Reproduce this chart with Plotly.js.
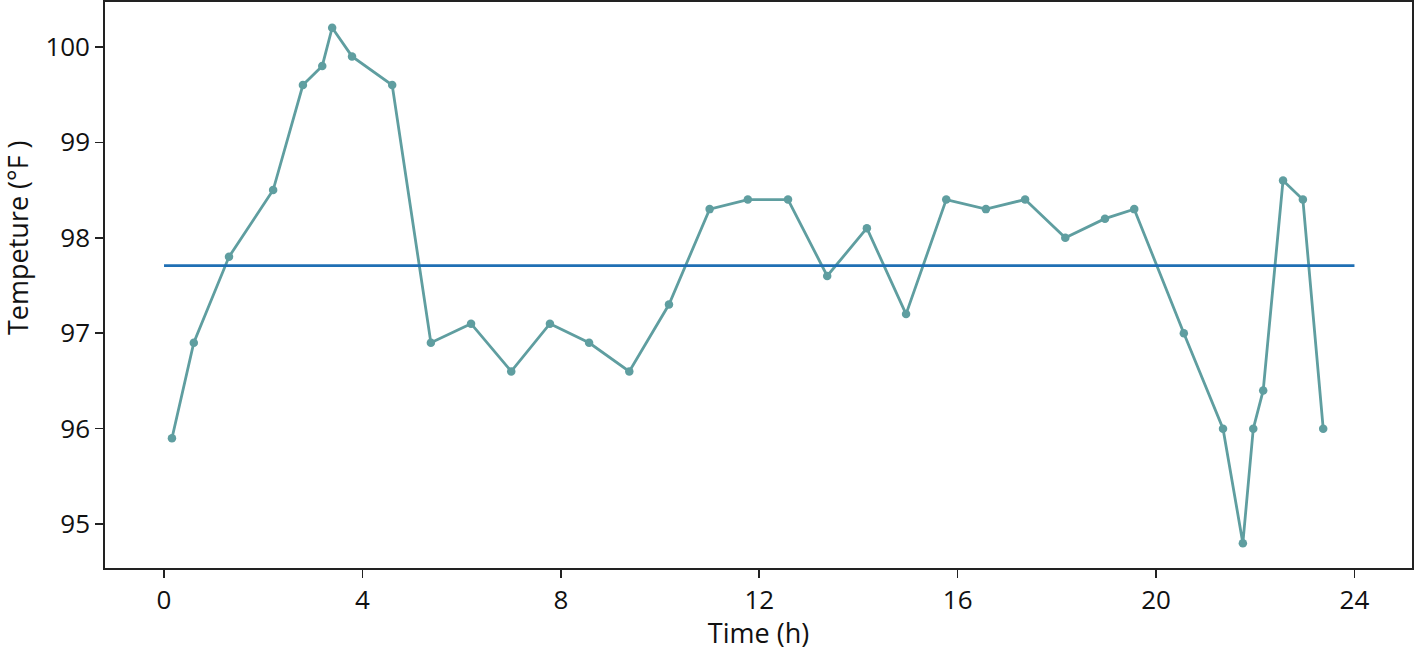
<!DOCTYPE html>
<html>
<head>
<meta charset="utf-8">
<script src="https://cdn.plot.ly/plotly-3.0.1.min.js"></script>
<style>html,body{margin:0;padding:0;background:#fff;}#chart{width:1416px;height:651px;}</style>
</head>
<body>
<div id="chart"></div>
<script>
const timeHours = [0.16,0.60,1.31,2.20,2.80,3.19,3.39,3.79,4.60,5.38,6.19,7.00,7.78,8.57,9.38,10.18,11.00,11.77,12.58,13.37,14.17,14.96,15.77,16.57,17.36,18.17,18.97,19.56,20.56,21.35,21.75,21.96,22.16,22.56,22.96,23.37];
const temperatureF = [95.9,96.9,97.8,98.5,99.6,99.8,100.2,99.9,99.6,96.9,97.1,96.6,97.1,96.9,96.6,97.3,98.3,98.4,98.4,97.6,98.1,97.2,98.4,98.3,98.4,98.0,98.2,98.3,97.0,96.0,94.8,96.0,96.4,98.6,98.4,96.0];
const meanSpanX = [0, 24];
const xTicks = [0,4,8,12,16,20,24];
const yTicks = [95,96,97,98,99,100];
const xTitle = 'Time (h)';
const yTitle = 'Tempeture (°F )';

const meanVal = temperatureF.reduce((a,b)=>a+b,0)/temperatureF.length;

const traces = [
  {x: timeHours, y: temperatureF, mode: 'lines+markers', type: 'scatter',
   line: {color: '#5f9ea0', width: 2.8}, marker: {color: '#5f9ea0', size: 8.5}},
  {x: meanSpanX, y: [meanVal, meanVal], mode: 'lines', type: 'scatter',
   line: {color: '#1f6fb4', width: 2.6}}
];

const tickFont = {family: 'Open Sans, DejaVu Sans, sans-serif', size: 26, color: '#111'};
const titleFont = {family: 'Open Sans, DejaVu Sans, sans-serif', size: 27, color: '#111'};

const layout = {
  width: 1416, height: 651,
  margin: {l: 105, r: 4, t: 2, b: 83},
  paper_bgcolor: '#fff', plot_bgcolor: '#fff',
  showlegend: false,
  font: tickFont,
  xaxis: {
    range: [-1.19, 25.16], tickvals: xTicks, ticktext: xTicks.map(String),
    showgrid: false, zeroline: false, showline: true, linecolor: '#222', linewidth: 1.8,
    mirror: true, ticks: 'outside', ticklen: 8, tickwidth: 1.5, tickcolor: '#222',
    tickfont: tickFont, automargin: false,
    title: {text: xTitle, font: titleFont, standoff: 2}
  },
  yaxis: {
    range: [94.54, 100.47], tickvals: yTicks, ticktext: yTicks.map(String),
    showgrid: false, zeroline: false, showline: true, linecolor: '#222', linewidth: 1.8,
    mirror: true, ticks: 'outside', ticklen: 8, tickwidth: 1.5, tickcolor: '#222',
    tickfont: tickFont, automargin: false
  },
  annotations: [{
    text: yTitle, font: titleFont, textangle: -90, showarrow: false,
    xref: 'paper', yref: 'paper',
    x: (18 - 105) / 1307, y: (568 - 238) / 566,
    xanchor: 'center', yanchor: 'middle'
  }]
};

Plotly.newPlot('chart', traces, layout, {displayModeBar: false, staticPlot: true});
</script>
</body>
</html>
